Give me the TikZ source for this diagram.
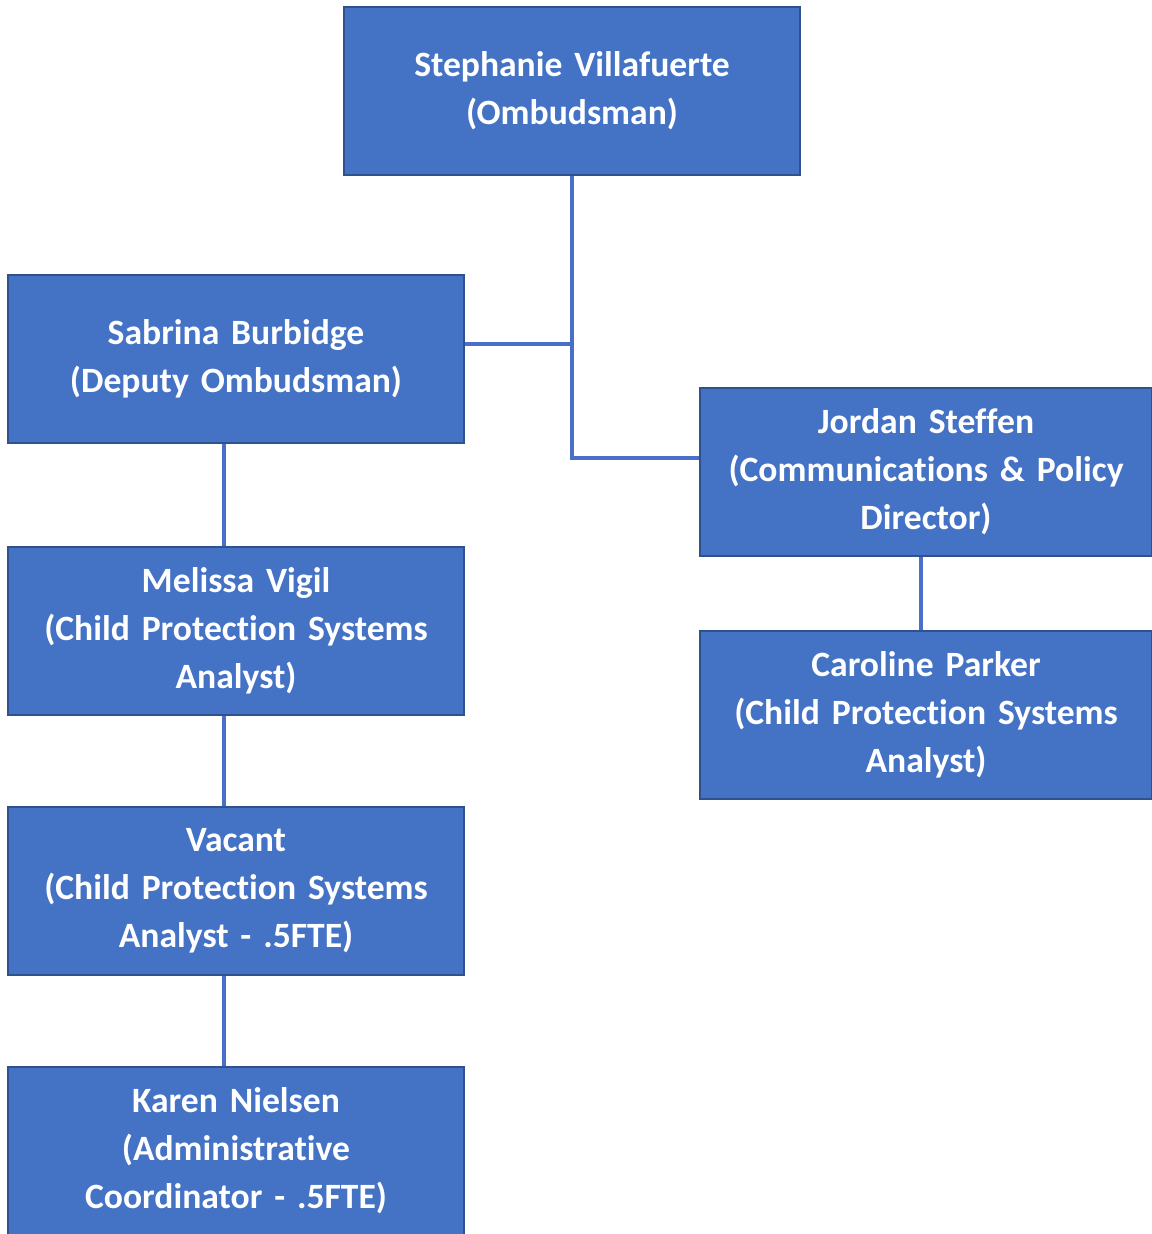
\documentclass[tikz,border=0pt]{standalone}
\usepackage{fontspec}
\setmainfont[Ligatures=NoCommon]{Carlito}
\usetikzlibrary{positioning, calc}
\definecolor{cfill}{HTML}{4472C4}
\definecolor{cedge}{HTML}{2F528F}
\definecolor{cline}{HTML}{4A6FC8}
\tikzset{
  every picture/.style={font=\bfseries, line width=1.2pt},
  box/.style={draw=cedge, fill=cfill, text=white, align=center, inner sep=4pt,
    minimum width=228pt, minimum height=84pt, text width=218pt,
    font=\fontsize{17.8}{24}\selectfont\bfseries},
  link/.style={draw=cline, line width=2pt},
}

\begin{document}
\begin{tikzpicture}[x=0.5pt, y=-0.5pt]
  \useasboundingbox[fill=white] (0,0) rectangle (1151,1234);
  \node[box] (ombud) at (572,91) {Stephanie Villafuerte\\(Ombudsman)};
  \node[box] (deputy) at (236,359) {Sabrina Burbidge\\(Deputy Ombudsman)};
  \node[box] (melissa) at (236,631) {Melissa Vigil\\(Child Protection Systems\\Analyst)};
  \node[box] (vacant) at (236,891) {Vacant\\(Child Protection Systems\\Analyst - .5FTE)};
  \node[box] (karen) at (236,1151) {Karen Nielsen\\(Administrative\\Coordinator - .5FTE)};
  \node[box, minimum width=224.5pt] (jordan) at (926,472) {Jordan Steffen\\(Communications \& Policy\\Director)};
  \node[box, minimum width=224.5pt] (caroline) at (926,715) {Caroline Parker\\(Child Protection Systems\\Analyst)};
  % trunk from the ombudsman
  \draw[link] (ombud.south) |- ([yshift=7pt]jordan.west);
  \draw[link] ([yshift=7.5pt]deputy.east) -- ([yshift=7.5pt]deputy.east -| ombud.south);
  % left column
  \draw[link] ([xshift=-6pt]deputy.south) -- ([xshift=-6pt]melissa.north);
  \draw[link] ([xshift=-6pt]melissa.south) -- ([xshift=-6pt]vacant.north);
  \draw[link] ([xshift=-6pt]vacant.south) -- ([xshift=-6pt]karen.north);
  % right column
  \draw[link] ([xshift=-2.5pt]jordan.south) -- ([xshift=-2.5pt]caroline.north);
\end{tikzpicture}
\end{document}
